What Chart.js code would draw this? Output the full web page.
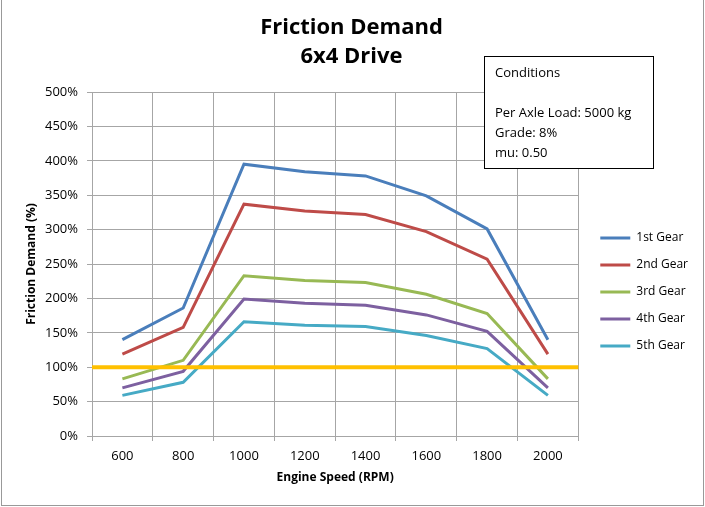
<!DOCTYPE html>
<html>
<head>
<meta charset="utf-8">
<title>Friction Demand 6x4 Drive</title>
<script src="https://cdn.jsdelivr.net/npm/chart.js@4/dist/chart.umd.min.js"></script>
<style>
    html, body { margin: 0; padding: 0; background: #fff; }
    #wrap { width: 705px; height: 507px; position: relative; }
</style>
</head>
<body>
<div id="wrap"><canvas id="frictionChart"></canvas></div>
<script>
// Engine speed categories (RPM)
const rpmLabels = ['600', '800', '1000', '1200', '1400', '1600', '1800', '2000'];

// Friction demand per gear (%)
const gear1 = [140, 186, 395, 384, 378, 349, 301, 140];
const gear2 = [119, 158, 337, 327, 322, 297, 257, 119];
const gear3 = [83, 110, 233, 226, 223, 206, 178, 83];
const gear4 = [70, 94, 199, 193, 190, 176, 152, 70];
const gear5 = [59, 78, 166, 161, 159, 146, 127, 59];

const gearNames = ['1st Gear', '2nd Gear', '3rd Gear', '4th Gear', '5th Gear'];
const gearColors = ['#4A7EBB', '#BE4B48', '#98B954', '#7D60A0', '#46AAC5'];

// 100% friction limit line
const limitLevel = 100;

const conditionLines = ['Conditions', '', 'Per Axle Load: 5000 kg', 'Grade: 8%', 'mu: 0.50'];

const FONT = "'Open Sans', sans-serif";

// draws the limit line across the plot, the conditions box and the outer frame
const extrasPlugin = {
    id: 'extras',
    afterDatasetsDraw(chart) {
        const { ctx, chartArea } = chart;
        const y = chart.scales.y.getPixelForValue(limitLevel);
        ctx.save();
        ctx.strokeStyle = '#FFC000';
        ctx.lineWidth = 4;
        ctx.beginPath();
        ctx.moveTo(chartArea.left, y);
        ctx.lineTo(chartArea.right, y);
        ctx.stroke();
        ctx.restore();
    },
    afterDraw(chart) {
        const ctx = chart.ctx;
        ctx.save();
        // conditions box
        ctx.fillStyle = '#fff';
        ctx.fillRect(484.5, 56.5, 169, 112);
        ctx.strokeStyle = '#000';
        ctx.lineWidth = 1;
        ctx.strokeRect(484.5, 56.5, 169, 112);
        ctx.fillStyle = '#000';
        ctx.font = '13px ' + FONT;
        ctx.textBaseline = 'middle';
        conditionLines.forEach((t, i) => {
            ctx.fillText(t, 495, 73 + i * 20);
        });
        // outer frame
        ctx.strokeStyle = '#999';
        ctx.strokeRect(1.5, -0.5, 702, 506);
        ctx.restore();
    }
};

const seriesData = [gear1, gear2, gear3, gear4, gear5];

const ctx = document.getElementById('frictionChart').getContext('2d');
const chart = new Chart(ctx, {
    type: 'line',
    data: {
        labels: rpmLabels,
        datasets: seriesData.map((d, i) => ({
            label: gearNames[i],
            data: d,
            borderColor: gearColors[i],
            backgroundColor: gearColors[i],
            borderWidth: 3,
            pointRadius: 0,
            tension: 0,
            fill: false,
        }))
    },
    options: {
        responsive: true,
        maintainAspectRatio: false,
        animation: false,
        layout: { padding: { top: 5, left: 5, right: 7, bottom: 5 } },
        plugins: {
            title: {
                display: true,
                text: ['Friction Demand', '6x4 Drive'],
                color: '#000',
                font: { family: FONT, size: 22, weight: 'bold', lineHeight: 29 / 22 },
                padding: { top: 8.5, bottom: 20.5 },
            },
            legend: {
                position: 'right',
                align: 'center',
                title: { display: true, text: '', padding: { top: 0, bottom: 62.6 }, font: { size: 12 } },
                labels: {
                    usePointStyle: true,
                    pointStyle: 'line',
                    pointStyleWidth: 30,
                    padding: 15,
                    color: '#000',
                    font: { family: FONT, size: 12 },
                }
            },
            tooltip: { enabled: false },
        },
        scales: {
            x: {
                offset: true,
                grid: { offset: true, color: '#A6A6A6', tickLength: 5 },
                border: { color: '#A6A6A6' },
                ticks: { color: '#000', padding: 7, font: { family: FONT, size: 13 }, maxRotation: 0 },
                title: {
                    display: true,
                    text: 'Engine Speed (RPM)',
                    color: '#000',
                    font: { family: FONT, size: 12, weight: 'bold' },
                    padding: { top: 0, bottom: 16.8 },
                },
                afterFit: s => { s.height = 66; },
            },
            y: {
                min: 0,
                max: 500,
                grid: { color: '#A6A6A6', tickLength: 5 },
                border: { color: '#A6A6A6' },
                ticks: {
                    stepSize: 50,
                    color: '#000',
                    padding: 9,
                    font: { family: FONT, size: 13 },
                    callback: v => v + '%',
                },
                title: {
                    display: true,
                    text: 'Friction Demand (%)',
                    color: '#000',
                    font: { family: FONT, size: 12, weight: 'bold' },
                    padding: { top: 19.8, bottom: 0 },
                },
                afterFit: s => { s.width = 87; },
            },
            // spacer between plot and legend
            y2: {
                position: 'right',
                display: true,
                grid: { display: false },
                border: { display: false },
                ticks: { display: false },
                afterFit: s => { s.width = 7; },
            },
        }
    },
    plugins: [extrasPlugin]
});
</script>
</body>
</html>
